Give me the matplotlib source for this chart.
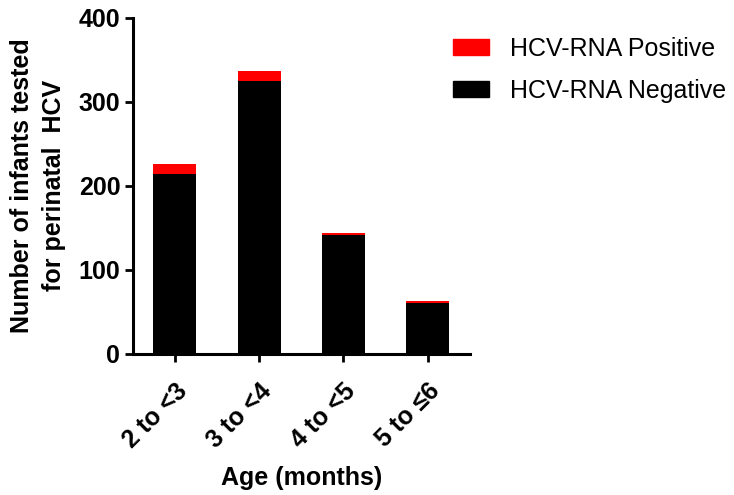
import matplotlib.pyplot as plt
from matplotlib.patches import Patch

plt.rcParams['font.family'] = ['Liberation Sans', 'DejaVu Sans']
plt.rcParams['font.weight'] = 'bold'

ages = ["2 to <3", "3 to <4", "4 to <5", "5 to \u22646"]
negative = [214, 325, 141, 61]
positive = [12, 12, 3, 2]

fig = plt.figure(figsize=(7.34, 4.95), dpi=100)
ax = fig.add_axes([0.181, 0.285, 0.459, 0.679])

x = list(range(len(ages)))
ax.bar(x, negative, width=0.51, color="black", label="HCV-RNA Negative")
ax.bar(x, positive, width=0.51, bottom=negative, color="red", label="HCV-RNA Positive")

ax.set_xlim(-0.5, 3.5)
ax.set_ylim(0, 400)
ax.set_yticks([0, 100, 200, 300, 400])
ax.set_xticks(x)
ax.set_xticklabels(ages, rotation=45, ha="right", rotation_mode="anchor")
ax.tick_params(labelsize=18, width=2, length=6, pad=3)
ax.tick_params(axis="x", pad=12)

for side in ["top", "right"]:
    ax.spines[side].set_visible(False)
for side in ["left", "bottom"]:
    ax.spines[side].set_linewidth(2.2)

ax.set_ylabel("Number of infants tested\nfor perinatal  HCV", fontsize=18,
              fontweight="bold", labelpad=9, linespacing=1.45)
ax.set_xlabel("Age (months)", fontsize=18, fontweight="bold", labelpad=10)

handles = [Patch(color="red"), Patch(color="black")]
fig.legend(handles, ["HCV-RNA Positive", "HCV-RNA Negative"],
           loc="upper left", bbox_to_anchor=(0.617, 0.925), frameon=False,
           prop={"size": 18, "weight": "normal"}, handlelength=1.44,
           handleheight=0.6, handletextpad=0.84, labelspacing=0.72,
           borderpad=0, borderaxespad=0)

fig.savefig("out.png", dpi=100)
